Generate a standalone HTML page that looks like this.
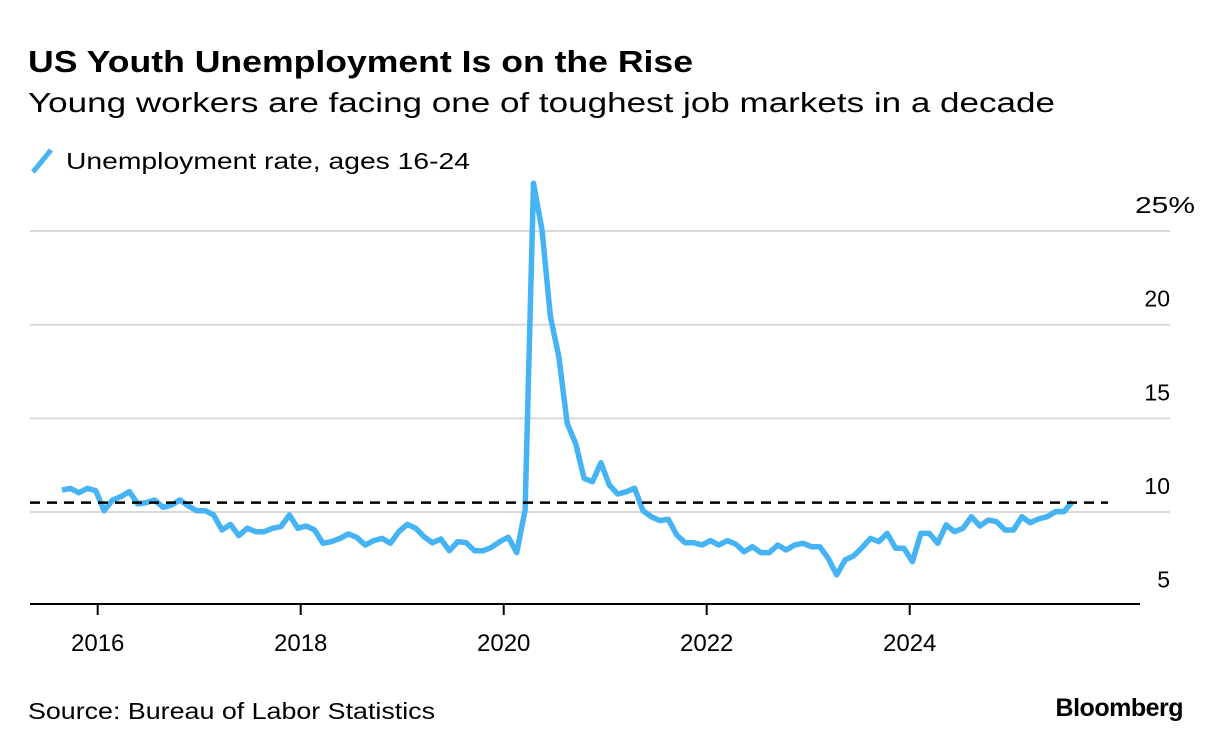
<!DOCTYPE html>
<html><head><meta charset="utf-8">
<style>
body{margin:0;background:#fff;font-family:"Liberation Sans",Arial,sans-serif;}
svg{display:block}
</style></head>
<body>
<svg width="1223" height="752" viewBox="0 0 1223 752">
<text x="28" y="72" font-size="31" font-weight="bold" fill="#000" textLength="665" lengthAdjust="spacingAndGlyphs">US Youth Unemployment Is on the Rise</text>
<text x="28" y="112" font-size="28" fill="#000" textLength="1027" lengthAdjust="spacingAndGlyphs">Young workers are facing one of toughest job markets in a decade</text>
<line x1="33" y1="172" x2="51" y2="150" stroke="#45b3f4" stroke-width="5"/>
<text x="66" y="169" font-size="23" fill="#000" textLength="404" lengthAdjust="spacingAndGlyphs">Unemployment rate, ages 16-24</text>
<g id="grid"></g>
<g id="axes"></g>
<path id="line" fill="none" stroke="#45b3f4" stroke-width="5.5" stroke-linejoin="round"/>
<line id="ref" stroke="#000" stroke-width="2.5" stroke-dasharray="10,7"/>
<text x="28" y="719" font-size="23" fill="#000" textLength="407" lengthAdjust="spacingAndGlyphs">Source: Bureau of Labor Statistics</text>
<text x="1183" y="716" font-size="25" font-weight="bold" text-anchor="end" fill="#000" letter-spacing="-0.5">Bloomberg</text>
</svg>
<script>
const yTicks=[5,10,15,20,25];
const yTickLabels=["5","10","15","20","25%"];
const xTickYears=[2016,2018,2020,2022,2024];
const refValue=10.5;
const startIndex=-4; // Sep 2015, months relative to Jan 2016
const rates=[11.17,11.26,11.03,11.26,11.14,10.07,10.64,10.82,11.09,10.43,10.5,10.64,10.25,10.37,10.64,10.32,10.07,10.07,9.84,9.04,9.34,8.74,9.13,8.95,8.95,9.13,9.22,9.84,9.13,9.25,9.04,8.33,8.42,8.59,8.83,8.65,8.24,8.47,8.59,8.33,8.95,9.34,9.13,8.68,8.36,8.56,7.93,8.42,8.36,7.93,7.93,8.11,8.42,8.65,7.83,
10.1,27.55,25.06,20.43,18.3,14.73,13.67,11.8,11.62,12.63,11.44,10.96,11.08,11.27,10.07,9.75,9.54,9.61,8.77,8.36,8.36,
8.24,8.47,8.24,8.47,8.29,7.88,8.15,7.83,7.83,8.24,7.97,8.24,8.33,8.15,8.15,7.53,6.64,7.44,7.65,8.09,8.59,8.42,8.86,8.06,8.06,7.35,8.86,8.86,8.33,9.31,8.95,9.13,9.75,9.25,9.57,9.48,9.04,9.04,9.75,9.43,9.63,9.75,10.02,10.02,10.55];
const NS="http://www.w3.org/2000/svg";
function y(v){return 512-(v-10)*18.73;}
function xm(m){return 95.7+m*8.42;}
function xYear(yr){return 97.7+(yr-2016)*101.5;}
const grid=document.getElementById('grid'),axes=document.getElementById('axes');
yTicks.forEach((t,i)=>{
  if(t>5){
    const l=document.createElementNS(NS,'line');
    l.setAttribute('x1',30);l.setAttribute('x2',1170);l.setAttribute('y1',y(t));l.setAttribute('y2',y(t));
    l.setAttribute('stroke','#d9d9d9');l.setAttribute('stroke-width','2');
    
    
    grid.appendChild(l);
  }
  const tx=document.createElementNS(NS,'text');
  tx.setAttribute('x',1170);tx.setAttribute('y',y(t)-18);
  tx.setAttribute('font-size','23');tx.setAttribute('fill','#000');
  tx.textContent=yTickLabels[i];
  
  
  if(yTickLabels[i].indexOf('%')<0){tx.setAttribute('text-anchor','end');}else{tx.setAttribute('x',1135);tx.setAttribute('textLength','60');tx.setAttribute('lengthAdjust','spacingAndGlyphs');}
  axes.appendChild(tx);
});
const base=document.createElementNS(NS,'line');
base.setAttribute('x1',30);base.setAttribute('x2',1140);base.setAttribute('y1',604);base.setAttribute('y2',604);
base.setAttribute('stroke','#000');base.setAttribute('stroke-width','2');


axes.appendChild(base);
xTickYears.forEach(yr=>{
  const x=xYear(yr);
  const t=document.createElementNS(NS,'line');
  t.setAttribute('x1',x);t.setAttribute('x2',x);t.setAttribute('y1',604);t.setAttribute('y2',615);
  t.setAttribute('stroke','#000');t.setAttribute('stroke-width','2');
  
  
  axes.appendChild(t);
  const tx=document.createElementNS(NS,'text');
  tx.setAttribute('x',x);tx.setAttribute('y',651);tx.setAttribute('text-anchor','middle');
  tx.setAttribute('font-size','24');tx.setAttribute('fill','#000');
  tx.textContent=yr;
  
  
  axes.appendChild(tx);
});
let d='';
rates.forEach((v,i)=>{d+=(i?'L':'M')+xm(startIndex+i).toFixed(1)+','+y(v).toFixed(1);});
document.getElementById('line').setAttribute('d',d);
const r=document.getElementById('ref');
r.setAttribute('x1',30);r.setAttribute('x2',1108);r.setAttribute('y1',y(refValue));r.setAttribute('y2',y(refValue));
</script>
</body></html>
